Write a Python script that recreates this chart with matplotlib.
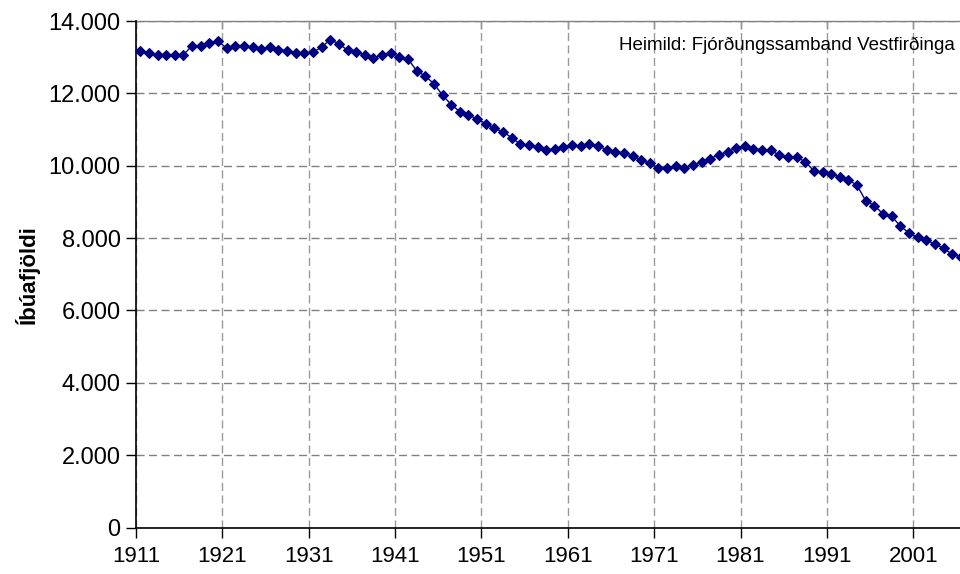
#!/usr/bin/env python3

import numpy as np
import matplotlib
matplotlib.use("Agg")
from matplotlib import pyplot as plt

# Íbúafjöldi á Vestfjörðum, 1911-2006
years = list(range(1911, 2007))
population = [
    13174, 13119, 13055, 13055, 13064, 13064, 13321, 13321, 13404, 13450,
    13248, 13321, 13321, 13275, 13220, 13294, 13202, 13183, 13119, 13119,
    13138, 13280, 13486, 13370, 13193, 13138, 13064, 12982, 13055, 13128,
    13018, 12954, 12624, 12477, 12266, 11950, 11690, 11495, 11394, 11300,
    11160, 11032, 10940, 10775, 10592, 10575, 10515, 10442, 10460, 10515,
    10580, 10534, 10607, 10552, 10442, 10386, 10350, 10267, 10156, 10064,
    9936, 9926, 9991, 9945, 10018, 10101, 10193, 10310, 10378, 10500,
    10546, 10472, 10435, 10435, 10287, 10241, 10231, 10111, 9852, 9815,
    9759, 9694, 9611, 9454, 9028, 8898, 8667, 8602, 8333, 8139,
    8018, 7935, 7842, 7713, 7555, 7481,
]

xtick_years = years[::10]
ytick_values = [0, 2000, 4000, 6000, 8000, 10000, 12000, 14000]
ytick_labels = ["0", "2.000", "4.000", "6.000", "8.000", "10.000", "12.000", "14.000"]

y_label = "Íbúafjöldi"
source = "Heimild: Fjórðungssamband Vestfirðinga"


def main():
    plt.rcParams['font.family'] = ['Liberation Sans', 'DejaVu Sans']
    plt.rcParams['lines.scale_dashes'] = False

    fig = plt.figure(figsize=(9.6, 5.74), dpi=100)
    ax = fig.add_axes([0.1416, 0.081, 0.8584, 0.8824])

    # category axis: ticks sit between the yearly points
    tick_pos = [y - 0.5 for y in xtick_years]

    ax.plot(years, population, color='#000080', linewidth=1.0,
            marker='D', markersize=5.2, markeredgewidth=0.8,
            markerfacecolor='#000080', markeredgecolor='#000080',
            clip_on=False, zorder=3)

    ax.set_xlim(1910.5, 2005.91)
    ax.set_ylim(0, 14000)

    ax.set_xticks(tick_pos)
    ax.set_xticklabels([str(y) for y in xtick_years], fontsize=16)
    ax.set_yticks(ytick_values)
    ax.set_yticklabels(ytick_labels, fontsize=17)

    ax.yaxis.grid(True, color='#808080', linewidth=1.0, linestyle=(0, (5.8, 3.2)))
    ax.xaxis.grid(True, color='#999999', linewidth=1.0, linestyle=(0, (5.8, 3.2)))
    ax.set_axisbelow(True)

    ax.tick_params(axis='x', direction='out', length=7, width=1, color='black', pad=6)
    ax.tick_params(axis='y', direction='out', length=7, width=1, color='black', pad=4)

    ax.spines['left'].set_color('black')
    ax.spines['left'].set_linewidth(1.2)
    ax.spines['bottom'].set_color('black')
    ax.spines['bottom'].set_linewidth(1.2)
    ax.spines['right'].set_visible(False)
    ax.spines['top'].set_visible(False)

    # grey top border with small inward ticks
    top = ax.secondary_xaxis('top')
    top.set_xticks(tick_pos)
    top.tick_params(direction='in', length=6, width=1, color='#808080', labeltop=False)
    top.spines['top'].set_color('#808080')
    top.spines['top'].set_linewidth(1.0)

    ax.set_ylabel(y_label, fontsize=16, fontweight='bold')
    ax.yaxis.set_label_coords(-0.117, 0.5)

    ax.text(0.994, 0.951, source, transform=ax.transAxes,
            ha='right', va='center', fontsize=13.5)

    fig.savefig("out.png", dpi=100)


if __name__ == "__main__":
    main()
